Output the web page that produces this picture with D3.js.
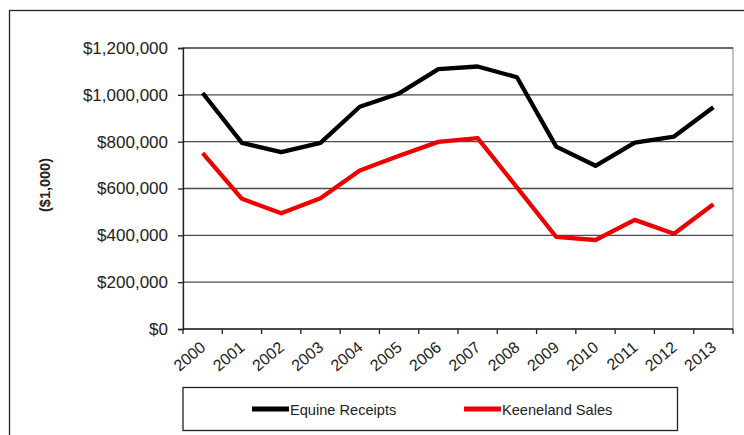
<!DOCTYPE html>
<html><head><meta charset="utf-8">
<script src="https://cdn.jsdelivr.net/npm/d3@7"></script>
<style>
body{margin:0;background:#fff;}
svg{display:block;font-family:"Liberation Sans",Arial,sans-serif;}
</style></head>
<body><svg id="c" width="744" height="435"></svg>
<script>
const years = ["2000","2001","2002","2003","2004","2005","2006","2007","2008","2009","2010","2011","2012","2013"];
const equineReceipts = [1008000,795000,755000,795000,949000,1006000,1110000,1121000,1075000,779000,697000,796000,822000,947000];
const keenelandSales = [751000,556000,494000,558000,677000,740000,799000,815000,605000,393000,380000,466000,407000,533000];
const yTicks = [0,200000,400000,600000,800000,1000000,1200000];
const seriesNames = ["Equine Receipts","Keeneland Sales"];
const seriesColors = ["#000000","#ee0000"];

const svg = d3.select("#c");
const L=183,R=733,T=48,B=329;
const x = d3.scaleBand().domain(years).range([L,R]);
const y = d3.scaleLinear().domain([0,1200000]).range([B,T]);

// outer frame
svg.append("rect").attr("x",9.5).attr("y",10.5).attr("width",760).attr("height",460)
  .attr("fill","none").attr("stroke","#222").attr("stroke-width",1.3);

// plot border
svg.append("rect").attr("x",L).attr("y",T).attr("width",R-L).attr("height",B-T)
  .attr("fill","none").attr("stroke","#999").attr("stroke-width",1.2);

// gridlines
svg.append("g").selectAll("line").data(yTicks.filter(d=>d>0)).join("line")
  .attr("x1",L).attr("x2",R).attr("y1",d=>y(d)).attr("y2",d=>y(d))
  .attr("stroke","#4a4a4a").attr("stroke-width",1.3);

// y axis
const fmt = d=>"$"+d3.format(",")(d);
const ya = svg.append("g").attr("transform",`translate(${L},0)`)
  .call(d3.axisLeft(y).tickValues(yTicks).tickFormat(fmt).tickSize(5).tickPadding(10));
ya.select(".domain").attr("stroke","#222").attr("stroke-width",1.3);
ya.selectAll(".tick line").attr("stroke","#222").attr("stroke-width",1.3);
ya.selectAll("text").attr("font-size",17).attr("fill","#222").attr("font-family","Liberation Sans, Arial, sans-serif");

// x axis ticks
svg.append("g").selectAll("line").data(d3.range(years.length+1)).join("line")
  .attr("x1",i=>L+i*x.step()).attr("x2",i=>L+i*x.step()).attr("y1",B).attr("y2",B+5)
  .attr("stroke","#222").attr("stroke-width",1.3);
svg.append("line").attr("x1",L).attr("x2",R).attr("y1",B).attr("y2",B).attr("stroke","#222").attr("stroke-width",1.5);
svg.append("g").selectAll("text").data(years).join("text")
  .attr("transform",d=>`translate(${x(d)+x.bandwidth()/2+4},${B+20}) rotate(-40)`)
  .attr("text-anchor","end").attr("font-size",16).attr("fill","#222").text(d=>d);

// y label
svg.append("text").attr("transform","translate(50,185) rotate(-90)")
  .attr("text-anchor","middle").attr("font-size",14.5).attr("font-weight","bold").attr("fill","#222").text("($1,000)");

// lines
const line = d3.line().x((d,i)=>x(years[i])+x.bandwidth()/2).y(d=>y(d));
[equineReceipts,keenelandSales].forEach((s,k)=>{
  svg.append("path").attr("d",line(s)).attr("fill","none")
    .attr("stroke",seriesColors[k]).attr("stroke-width",4.3).attr("stroke-linejoin","round");
});

// legend
svg.append("rect").attr("x",183).attr("y",387.5).attr("width",494.5).attr("height",43)
  .attr("fill","#fff").attr("stroke","#222").attr("stroke-width",1.3);
const legX = [252,464];
seriesNames.forEach((n,k)=>{
  svg.append("line").attr("x1",legX[k]).attr("x2",legX[k]+37).attr("y1",409).attr("y2",409)
    .attr("stroke",seriesColors[k]).attr("stroke-width",5);
  svg.append("text").attr("x",legX[k]+38).attr("y",414.5).attr("font-size",14.6).attr("fill","#222").text(n);
});
</script></body></html>
